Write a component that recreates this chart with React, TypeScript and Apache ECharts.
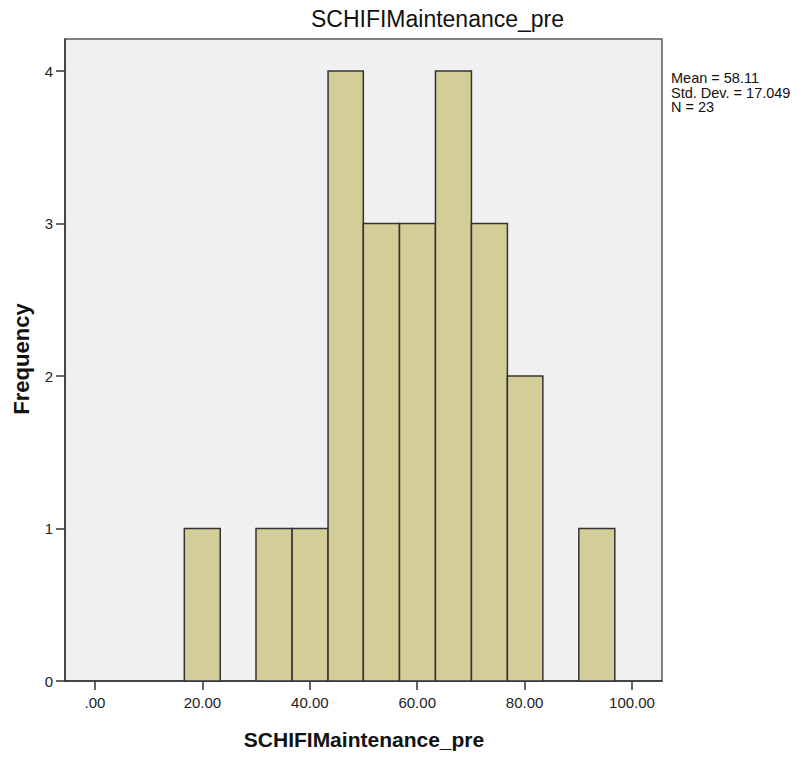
import React, { useEffect, useRef } from "react";
import * as echarts from "echarts";

const chartTitle = "SCHIFIMaintenance_pre";
const xAxisTitle = "SCHIFIMaintenance_pre";
const yAxisTitle = "Frequency";
const statsLines = ["Mean = 58.11", "Std. Dev. = 17.049", "N = 23"];

// bin edges
const binEdges = [16.63, 23.32, 29.98, 36.7, 43.4, 49.97, 56.7, 63.4, 70.1, 76.8, 83.4, 90.1, 96.8];
const frequencies = [1, 0, 1, 1, 4, 3, 3, 4, 3, 2, 0, 1];

const xTickValues = [0, 20, 40, 60, 80, 100];
const xTickLabels = [".00", "20.00", "40.00", "60.00", "80.00", "100.00"];
const yTickValues = [0, 1, 2, 3, 4];

const FONT = "'Liberation Sans', Arial, sans-serif";

export default function App() {
  const ref = useRef<HTMLDivElement>(null);

  useEffect(() => {
    if (!ref.current) return;
    const chart = echarts.init(ref.current, null, { renderer: "svg" });
    const data = frequencies.map((f, i) => [binEdges[i], binEdges[i + 1], f]);

    chart.setOption({
      animation: false,
      backgroundColor: "#ffffff",
      grid: {
        left: 65,
        right: 144,
        top: 39,
        bottom: 78,
        show: true,
        backgroundColor: "#f0f0f0",
        borderColor: "#5a5a5a",
        borderWidth: 1.5,
      },
      xAxis: {
        type: "value",
        min: -5.59,
        max: 105.59,
        splitLine: { show: false },
        axisLine: { show: true, onZero: false, lineStyle: { color: "#333", width: 1.5 } },
        axisTick: {
          show: true,
          length: 9,
          customValues: xTickValues,
          lineStyle: { color: "#333", width: 1.5 },
        },
        axisLabel: {
          customValues: xTickValues,
          margin: 14,
          fontFamily: FONT,
          fontSize: 15,
          color: "#222",
          formatter: (v: number) => {
            const idx = xTickValues.indexOf(v);
            return idx >= 0 ? xTickLabels[idx] : "";
          },
        },
      },
      yAxis: {
        type: "value",
        min: 0,
        max: 4.21,
        splitLine: { show: false },
        axisLine: { show: true, onZero: false, lineStyle: { color: "#333", width: 1.5 } },
        axisTick: {
          show: true,
          length: 9,
          customValues: yTickValues,
          lineStyle: { color: "#333", width: 1.5 },
        },
        axisLabel: {
          customValues: yTickValues,
          margin: 12,
          fontFamily: FONT,
          fontSize: 15,
          color: "#222",
        },
      },
      series: [
        {
          type: "custom",
          encode: { x: [0, 1], y: 2 },
          data,
          renderItem: (params: any, api: any) => {
            const count = api.value(2);
            if (!count) return null;
            const p0 = api.coord([api.value(0), 0]);
            const p1 = api.coord([api.value(1), count]);
            return {
              type: "rect",
              shape: { x: p0[0], y: p1[1], width: p1[0] - p0[0], height: p0[1] - p1[1] },
              style: { fill: "#d3ce97", stroke: "#333333", lineWidth: 1.5 },
            };
          },
        },
      ],
      graphic: [
        {
          type: "text",
          x: 437.5,
          y: 18.7,
          style: {
            text: chartTitle,
            fontFamily: FONT,
            fontSize: 23,
            fill: "#111",
            textAlign: "center",
            textVerticalAlign: "middle",
          },
        },
        {
          type: "text",
          x: 364,
          y: 739.5,
          style: {
            text: xAxisTitle,
            fontFamily: FONT,
            fontSize: 21,
            fontWeight: "bold",
            fill: "#111",
            textAlign: "center",
            textVerticalAlign: "middle",
          },
        },
        {
          type: "text",
          x: 21,
          y: 359,
          rotation: Math.PI / 2,
          style: {
            text: yAxisTitle,
            fontFamily: FONT,
            fontSize: 22,
            fontWeight: "bold",
            fill: "#111",
            textAlign: "center",
            textVerticalAlign: "middle",
          },
        },
        {
          type: "text",
          x: 671,
          y: 71,
          style: {
            text: statsLines.join("\n"),
            fontFamily: FONT,
            fontSize: 14.5,
            lineHeight: 14.5,
            fill: "#111",
            textAlign: "left",
            textVerticalAlign: "top",
          },
        },
      ],
    });

    return () => chart.dispose();
  }, []);

  return (
    <div
      ref={ref}
      style={{ position: "fixed", left: 0, top: 0, width: 806, height: 759 }}
    />
  );
}
